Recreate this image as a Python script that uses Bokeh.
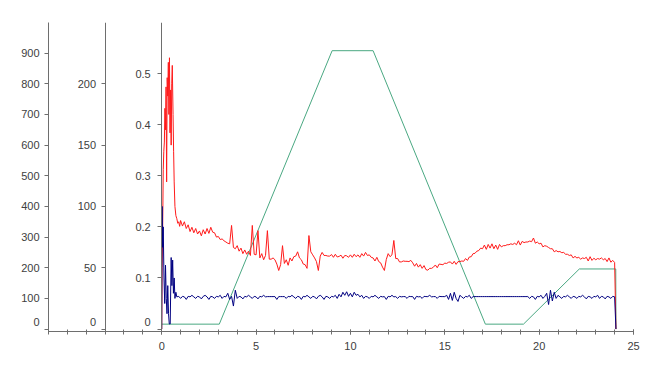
from bokeh.plotting import figure
from bokeh.models import Range1d, LinearAxis, FixedTicker
from bokeh.embed import file_html
from bokeh.resources import INLINE

# ---- data ----
x_ticks = [0, 5, 10, 15, 20, 25]
x_minor = list(range(-6, 26))
outer_ticks = [0, 100, 200, 300, 400, 500, 600, 700, 800, 900]
mid_ticks = [0, 50, 100, 150, 200]
inner_ticks = [0, 0.1, 0.2, 0.3, 0.4, 0.5]

# red series (outer axis, 0-1000)
red_x_start = [0.0, 0.02, 0.05, 0.08, 0.11, 0.14, 0.17, 0.2, 0.23, 0.26, 0.29, 0.32,
               0.35, 0.38, 0.41, 0.44, 0.47, 0.5, 0.53, 0.56, 0.6, 0.63, 0.66, 0.7,
               0.75, 0.8, 0.85, 0.9, 0.95]
red_y_start = [0, 200, 330, 520, 580, 610, 720, 650, 790, 480, 820, 760,
               870, 700, 885, 640, 780, 600, 800, 860, 700, 580, 480, 400,
               370, 360, 345, 350, 335]
red_x_main = [round(1.0 + 0.1 * i, 1) for i in range(231)]
red_y_main = [
    354, 336, 350, 328, 340, 318, 332, 314, 328, 310,
    320, 304, 324, 310, 328, 312, 332, 316, 314, 300,
    302, 292, 294, 288, 284, 280, 278, 338, 266, 262,
    272, 254, 264, 246, 258, 244, 254, 240, 338, 244,
    242, 321, 232, 246, 226, 240, 321, 228, 228, 232,
    226, 212, 191, 210, 272, 214, 226, 208, 232, 222,
    236, 238, 252, 232, 226, 212, 210, 198, 305, 252,
    242, 232, 220, 191, 238, 250, 240, 240, 238, 238,
    243, 234, 244, 235, 237, 241, 231, 240, 239, 234,
    242, 234, 244, 236, 242, 234, 246, 238, 250, 240,
    242, 234, 232, 222, 234, 220, 216, 202, 191, 227,
    246, 236, 242, 289, 230, 230, 219, 219, 222, 221,
    221, 220, 224, 216, 205, 214, 202, 210, 198, 207,
    194, 192, 198, 198, 202, 209, 200, 212, 211, 210,
    215, 214, 218, 219, 212, 221, 211, 220, 220, 222,
    221, 230, 224, 235, 236, 246, 247, 254, 256, 264,
    262, 274, 260, 276, 264, 278, 262, 274, 260, 276,
    268, 272, 272, 275, 275, 278, 276, 280, 275, 288,
    274, 286, 282, 284, 284, 287, 285, 297, 280, 284,
    278, 280, 268, 272, 270, 266, 262, 262, 252, 256,
    252, 253, 249, 250, 244, 244, 240, 242, 232, 237,
    232, 234, 228, 232, 230, 234, 222, 236, 224, 231,
    226, 230, 228, 232, 226, 230, 220, 232, 218, 224,
    217]
red_x_end = [24.07]
red_y_end = [0]

# blue series (inner axis, 0-0.6)
blue_x_start = [0.0, 0.02, 0.05, 0.08, 0.12, 0.16, 0.2, 0.24, 0.28, 0.32, 0.36,
                0.4, 0.45, 0.5, 0.54, 0.58, 0.62, 0.66, 0.7, 0.75]
blue_y_start = [0.0, 0.24, 0.16, 0.2, 0.1, 0.05, 0.125, 0.06, 0.03, 0.085, 0.03,
                0.01, 0.01, 0.14, 0.085, 0.135, 0.07, 0.1, 0.06, 0.072]
blue_x_main = [round(0.8 + 0.1 * i, 1) for i in range(233)]
blue_y_main = [
    0.063, 0.064,
    0.060, 0.064, 0.063, 0.058, 0.064, 0.063, 0.066, 0.063, 0.060, 0.064,
    0.063, 0.059, 0.064, 0.066, 0.063, 0.058, 0.064, 0.063, 0.060, 0.064,
    0.063, 0.066, 0.060, 0.064, 0.063, 0.070, 0.058, 0.064, 0.045, 0.076,
    0.060, 0.064, 0.063, 0.059, 0.064, 0.063, 0.066, 0.063, 0.060, 0.064,
    0.063, 0.059, 0.064, 0.063, 0.066, 0.063, 0.0635, 0.0635, 0.0635, 0.0635,
    0.0635, 0.058, 0.0635, 0.0635, 0.0635, 0.0635, 0.060, 0.064, 0.063, 0.066,
    0.063, 0.060, 0.064, 0.063, 0.058, 0.064, 0.063, 0.066, 0.063, 0.060,
    0.064, 0.063, 0.059, 0.064, 0.066, 0.063, 0.058, 0.064, 0.063, 0.060,
    0.064, 0.063, 0.066, 0.060, 0.068, 0.063, 0.072, 0.066, 0.073, 0.064,
    0.070, 0.063, 0.072, 0.066, 0.068, 0.063, 0.066, 0.060, 0.064, 0.063,
    0.060, 0.064, 0.063, 0.066, 0.063, 0.060, 0.064, 0.063, 0.0635, 0.058,
    0.064, 0.063, 0.066, 0.063, 0.0635, 0.060, 0.064, 0.063, 0.0635, 0.0635,
    0.060, 0.064, 0.0635, 0.0635, 0.058, 0.064, 0.063, 0.0635, 0.060, 0.064,
    0.0635, 0.0635, 0.066, 0.063, 0.0635, 0.0635, 0.060, 0.064, 0.0635, 0.0635,
    0.0635, 0.066, 0.058, 0.070, 0.056, 0.072, 0.060, 0.054, 0.066, 0.063,
    0.060, 0.064, 0.063, 0.066, 0.060, 0.0635, 0.0635, 0.0635, 0.0635, 0.0635,
    0.0635, 0.0635, 0.0635, 0.0635, 0.0635, 0.0635, 0.0635, 0.0635, 0.0635, 0.0635,
    0.0635, 0.0635, 0.0635, 0.0635, 0.0635, 0.0635, 0.0635, 0.0635, 0.0635, 0.0635,
    0.0635, 0.0635, 0.0635, 0.0635, 0.0635, 0.060, 0.064, 0.063, 0.058, 0.064,
    0.063, 0.066, 0.060, 0.064, 0.070, 0.048, 0.076, 0.055, 0.072, 0.060,
    0.066, 0.063, 0.060, 0.064, 0.063, 0.066, 0.063, 0.060, 0.064, 0.063,
    0.060, 0.064, 0.063, 0.066, 0.063, 0.059, 0.064, 0.063, 0.060, 0.064,
    0.063, 0.066, 0.060, 0.064, 0.063, 0.059, 0.064, 0.063, 0.060, 0.064,
    0.063]
blue_x_end = [24.07]
blue_y_end = [0.0]

# green series (middle axis, 0-250)
green_x = [0.0, 3.05, 9.03, 11.2, 17.15, 19.17, 22.13, 24.06, 24.07]
green_y = [4, 4, 227, 227, 4, 4, 49, 49, 0]

red_x = red_x_start + red_x_main + red_x_end
red_y = red_y_start + red_y_main + red_y_end
blue_x = blue_x_start + blue_x_main + blue_x_end
blue_y = blue_y_start + blue_y_main + blue_y_end

FONT = "Liberation Sans"
AXIS_COLOR = "#6e6e6e"
LABEL_COLOR = "#404040"

p = figure(width=645, height=370, output_backend="svg", toolbar_location=None,
           x_range=Range1d(-6, 25), y_range=Range1d(-8, 1000),
           min_border_left=48, min_border_right=12, min_border_top=22,
           min_border_bottom=39)
p.extra_y_ranges = {"mid": Range1d(-2, 250), "inner": Range1d(-0.0048, 0.6)}
p.xgrid.visible = False
p.ygrid.visible = False
p.outline_line_color = None
p.background_fill_color = "white"
p.border_fill_color = "white"


def style(ax):
    ax.axis_line_color = AXIS_COLOR
    ax.major_tick_line_color = AXIS_COLOR
    ax.minor_tick_line_color = AXIS_COLOR
    ax.major_label_text_font = FONT
    ax.major_label_text_font_size = "11px"
    ax.major_label_text_color = LABEL_COLOR


# x axis
xa = p.xaxis[0]
xa.ticker = FixedTicker(ticks=x_ticks, minor_ticks=x_minor)
xa.major_tick_in = 2
xa.major_tick_out = 3
xa.minor_tick_in = 2
xa.minor_tick_out = 3
xa.major_label_standoff = 7
style(xa)

# outer left axis
ya = p.yaxis[0]
ya.ticker = FixedTicker(ticks=outer_ticks, minor_ticks=[])
ya.major_tick_in = 0
ya.major_tick_out = 4
ya.major_label_standoff = 5
ya.major_label_overrides = {0: "0\n"}
style(ya)

mid_axis = LinearAxis(y_range_name="mid", fixed_location=-3,
                      ticker=FixedTicker(ticks=mid_ticks, minor_ticks=[]))
mid_axis.major_tick_in = 0
mid_axis.major_tick_out = 4
mid_axis.major_label_standoff = 5
mid_axis.major_label_overrides = {0: "0\n"}
style(mid_axis)
p.add_layout(mid_axis, "left")

inner_axis = LinearAxis(y_range_name="inner", fixed_location=0,
                        ticker=FixedTicker(ticks=inner_ticks, minor_ticks=[]))
inner_axis.major_tick_in = 0
inner_axis.major_tick_out = 4
inner_axis.major_label_standoff = 7
inner_axis.major_label_overrides = {0: "0\n"}
style(inner_axis)
p.add_layout(inner_axis, "left")

p.line(green_x, green_y, y_range_name="mid", line_color="#4aa882", line_width=1)
p.line(red_x, red_y, line_color="#ff1a1a", line_width=1)
p.line(blue_x, blue_y, y_range_name="inner", line_color="#000080", line_width=1)

open("out.html", "w").write(file_html(p, INLINE))
